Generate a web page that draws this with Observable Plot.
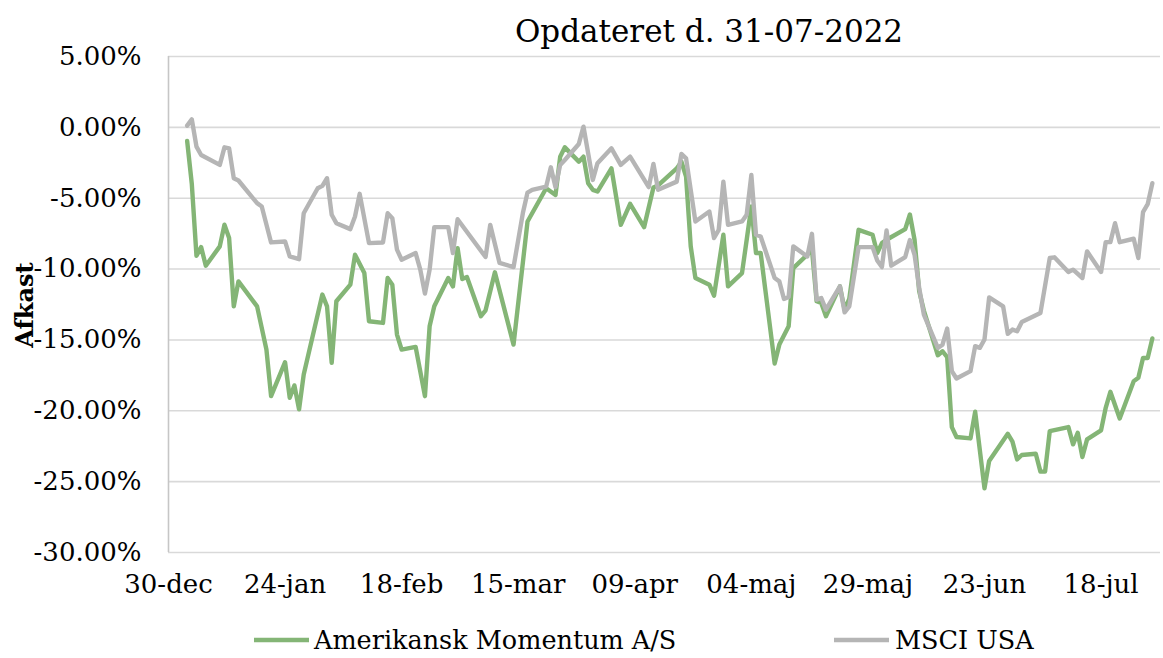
<!DOCTYPE html>
<html>
<head>
<meta charset="utf-8">
<script src="https://cdn.jsdelivr.net/npm/d3@7"></script>
<script src="https://cdn.jsdelivr.net/npm/@observablehq/plot@0.6"></script>
<style>
  html, body { margin: 0; padding: 0; background: #fff; }
  #chart { width: 1163px; height: 658px; }
</style>
</head>
<body>
<div id="chart"></div>
<script>
const title = "Opdateret d. 31-07-2022";
const yLabel = "Afkast";
const seriesNames = ["Amerikansk Momentum A/S", "MSCI USA"];
const seriesColors = ["#84b576", "#b5b5b5"];
const monthNames = ["jan","feb","mar","apr","maj","jun","jul","aug","sep","okt","nov","dec"];
const xTicks = ["2021-12-30","2022-01-24","2022-02-18","2022-03-15","2022-04-09","2022-05-04","2022-05-29","2022-06-23","2022-07-18"];
const yTicks = [5, 0, -5, -10, -15, -20, -25, -30];

// Amerikansk Momentum A/S (afkast i %)
const momDates = ["2022-01-03","2022-01-04","2022-01-05","2022-01-06","2022-01-07","2022-01-10","2022-01-11","2022-01-12","2022-01-13","2022-01-14",
"2022-01-18","2022-01-20","2022-01-21","2022-01-24","2022-01-25","2022-01-26","2022-01-27","2022-01-28","2022-02-01","2022-02-02",
"2022-02-03","2022-02-04","2022-02-07","2022-02-08","2022-02-10","2022-02-11","2022-02-14","2022-02-15","2022-02-16","2022-02-17",
"2022-02-18","2022-02-21","2022-02-23","2022-02-24","2022-02-25","2022-02-28","2022-03-01","2022-03-02","2022-03-03","2022-03-04",
"2022-03-07","2022-03-08","2022-03-10","2022-03-14","2022-03-17","2022-03-21","2022-03-23","2022-03-24","2022-03-25","2022-03-28",
"2022-03-29","2022-03-30","2022-03-31","2022-04-01","2022-04-04","2022-04-06","2022-04-08","2022-04-11","2022-04-13","2022-04-14",
"2022-04-18","2022-04-19","2022-04-20","2022-04-21","2022-04-22","2022-04-25","2022-04-26","2022-04-28","2022-04-29","2022-05-02",
"2022-05-04","2022-05-05","2022-05-06","2022-05-09","2022-05-10","2022-05-12","2022-05-13","2022-05-16","2022-05-17","2022-05-18",
"2022-05-19","2022-05-20","2022-05-23","2022-05-24","2022-05-25","2022-05-27","2022-05-30","2022-05-31","2022-06-01","2022-06-02",
"2022-06-06","2022-06-07","2022-06-08","2022-06-09","2022-06-10","2022-06-13","2022-06-14","2022-06-15","2022-06-16","2022-06-17",
"2022-06-20","2022-06-21","2022-06-23","2022-06-24","2022-06-28","2022-06-29","2022-06-30","2022-07-01","2022-07-04","2022-07-05",
"2022-07-06","2022-07-07","2022-07-11","2022-07-12","2022-07-13","2022-07-14","2022-07-15","2022-07-18","2022-07-19","2022-07-20",
"2022-07-22","2022-07-25","2022-07-26","2022-07-27","2022-07-28","2022-07-29"];
const momValues = [-0.96,-4.0,-9.06,-8.45,-9.76,-8.4,-6.87,-7.81,-12.63,-10.87,
-12.63,-15.68,-18.96,-16.57,-19.08,-18.21,-19.9,-17.44,-11.8,-12.63,
-16.62,-12.27,-11.1,-8.99,-10.28,-13.68,-13.8,-10.63,-11.1,-14.62,
-15.68,-15.49,-18.97,-14.04,-12.63,-10.63,-11.22,-8.52,-10.7,-10.56,
-13.33,-12.91,-10.23,-15.33,-6.64,-4.3,-4.77,-2.07,-1.41,-2.42,
-2.07,-3.94,-4.41,-4.53,-2.89,-6.88,-5.4,-7.04,-4.25,-4.1,
-2.9,-2.42,-3.47,-8.4,-10.63,-11.1,-11.88,-7.58,-11.22,-10.28,
-5.59,-8.87,-8.87,-16.67,-15.33,-14.04,-9.93,-8.99,-8.6,-12.27,
-12.39,-13.33,-11.22,-12.86,-12.11,-7.23,-7.58,-8.87,-8.17,-7.93,
-7.18,-6.15,-7.93,-11.57,-12.93,-16.08,-15.8,-16.22,-21.15,-21.85,
-21.95,-20.07,-25.47,-23.54,-21.62,-22.18,-23.43,-23.12,-23.03,-24.29,
-24.29,-21.43,-21.15,-22.37,-21.55,-23.26,-22.02,-21.38,-19.79,-18.66,
-20.54,-17.91,-17.67,-16.27,-16.27,-14.9];

// MSCI USA (afkast i %)
const msciDates = ["2022-01-03","2022-01-04","2022-01-05","2022-01-06","2022-01-10","2022-01-11","2022-01-12","2022-01-13","2022-01-14","2022-01-18",
"2022-01-19","2022-01-21","2022-01-24","2022-01-25","2022-01-27","2022-01-28","2022-01-31","2022-02-01","2022-02-02","2022-02-03",
"2022-02-04","2022-02-07","2022-02-08","2022-02-09","2022-02-11","2022-02-14","2022-02-15","2022-02-16","2022-02-17","2022-02-18",
"2022-02-21","2022-02-22","2022-02-23","2022-02-24","2022-02-25","2022-02-28","2022-03-01","2022-03-02","2022-03-08","2022-03-09",
"2022-03-11","2022-03-14","2022-03-16","2022-03-17","2022-03-18","2022-03-21","2022-03-22","2022-03-23","2022-03-24","2022-03-25",
"2022-03-28","2022-03-29","2022-03-31","2022-04-01","2022-04-04","2022-04-06","2022-04-08","2022-04-12","2022-04-13","2022-04-14",
"2022-04-18","2022-04-19","2022-04-20","2022-04-22","2022-04-25","2022-04-26","2022-04-27","2022-04-28","2022-04-29","2022-05-02",
"2022-05-03","2022-05-04","2022-05-05","2022-05-06","2022-05-09","2022-05-10","2022-05-11","2022-05-12","2022-05-13","2022-05-16",
"2022-05-17","2022-05-18","2022-05-19","2022-05-20","2022-05-23","2022-05-24","2022-05-25","2022-05-27","2022-05-30","2022-05-31",
"2022-06-01","2022-06-02","2022-06-03","2022-06-06","2022-06-07","2022-06-08","2022-06-09","2022-06-10","2022-06-13","2022-06-14",
"2022-06-15","2022-06-16","2022-06-17","2022-06-20","2022-06-21","2022-06-22","2022-06-23","2022-06-24","2022-06-27","2022-06-28",
"2022-06-29","2022-06-30","2022-07-01","2022-07-04","2022-07-05","2022-07-07","2022-07-08","2022-07-11","2022-07-12","2022-07-14",
"2022-07-15","2022-07-18","2022-07-19","2022-07-20","2022-07-21","2022-07-22","2022-07-25","2022-07-26","2022-07-27","2022-07-28",
"2022-07-29"];
const msciValues = [0.12,0.56,-1.36,-1.95,-2.65,-1.41,-1.48,-3.59,-3.75,-5.35,
-5.58,-8.12,-8.05,-9.1,-9.3,-6.06,-4.3,-4.13,-3.59,-6.17,
-6.76,-7.18,-6.29,-4.69,-8.17,-8.12,-6.06,-6.41,-8.63,-9.34,
-8.87,-10.04,-11.73,-10.04,-7.04,-7.04,-8.87,-6.48,-9.15,-6.88,
-9.57,-9.86,-6.05,-4.6,-4.41,-4.18,-2.82,-4.22,-2.65,-2.3,
-1.17,0.05,-3.71,-2.53,-1.48,-2.65,-2.07,-4.22,-2.58,-4.41,
-3.83,-1.88,-2.18,-6.64,-5.94,-7.81,-7.23,-3.83,-6.88,-6.64,
-6.17,-3.36,-7.58,-7.7,-10.63,-10.87,-12.11,-11.97,-8.4,-9.11,
-7.51,-12.16,-12.04,-12.86,-11.22,-13.05,-12.63,-8.45,-8.45,-9.39,
-9.86,-7.28,-9.76,-9.15,-7.95,-8.99,-11.33,-13.21,-15.56,-15.33,
-14.2,-17.2,-17.72,-17.2,-15.44,-15.56,-14.97,-12.0,-12.63,-14.57,
-14.27,-14.39,-13.73,-13.26,-13.1,-9.22,-9.17,-10.21,-10.04,-10.63,
-8.75,-10.21,-8.1,-8.1,-6.76,-8.1,-7.86,-9.22,-5.98,-5.42,
-3.94];

const parse = s => new Date(s + "T00:00:00Z");
const mom = momDates.map((d, i) => ({date: parse(d), value: momValues[i]}));
const msci = msciDates.map((d, i) => ({date: parse(d), value: msciValues[i]}));
const xStart = parse(xTicks[0]);
const xEnd = new Date(Date.UTC(2022, 6, 30, 18));
const fmtDate = d => String(d.getUTCDate()).padStart(2, "0") + "-" + monthNames[d.getUTCMonth()];

const W = 1163, H = 658;
const chart = Plot.plot({
  width: W,
  height: H,
  marginLeft: 168,
  marginRight: 3,
  marginTop: 56,
  marginBottom: 106,
  style: {fontFamily: "'DejaVu Serif', serif", fontSize: "26px", color: "#000", background: "#fff", overflow: "visible"},
  x: {type: "utc", domain: [xStart, xEnd], ticks: xTicks.map(parse), tickFormat: fmtDate, tickSize: 0, tickPadding: 22, label: null},
  y: {domain: [-30, 5], ticks: yTicks, tickFormat: d => d.toFixed(2) + "%", tickSize: 0, tickPadding: 27, label: null},
  marks: [
    Plot.ruleY(yTicks, {stroke: "#d9d9d9", strokeWidth: 1.6}),
    Plot.ruleX([xStart], {y1: -30, y2: 5, stroke: "#c6c6c6", strokeWidth: 1.6}),
    Plot.line(mom, {x: "date", y: "value", stroke: seriesColors[0], strokeWidth: 4.4, strokeLinejoin: "round"}),
    Plot.line(msci, {x: "date", y: "value", stroke: seriesColors[1], strokeWidth: 4.4, strokeLinejoin: "round"})
  ]
});

const svg = d3.select(chart);
svg.append("text")
  .attr("x", 709).attr("y", 42)
  .attr("text-anchor", "middle")
  .attr("font-size", 31)
  .attr("fill", "#000")
  .text(title);
svg.append("text")
  .attr("transform", "translate(33,305) rotate(-90)")
  .attr("text-anchor", "middle")
  .attr("font-size", 24)
  .attr("font-weight", "bold")
  .attr("fill", "#000")
  .text(yLabel);

const legend = [
  {x1: 254, x2: 309, tx: 314},
  {x1: 834, x2: 889, tx: 895}
];
legend.forEach((l, i) => {
  svg.append("line")
    .attr("x1", l.x1).attr("x2", l.x2).attr("y1", 640).attr("y2", 640)
    .attr("stroke", seriesColors[i]).attr("stroke-width", 4.4);
  svg.append("text")
    .attr("x", l.tx).attr("y", 649)
    .attr("text-anchor", "start")
    .attr("font-size", 25.5)
    .attr("fill", "#000")
    .text(seriesNames[i]);
});

document.getElementById("chart").appendChild(chart);
</script>
</body>
</html>
